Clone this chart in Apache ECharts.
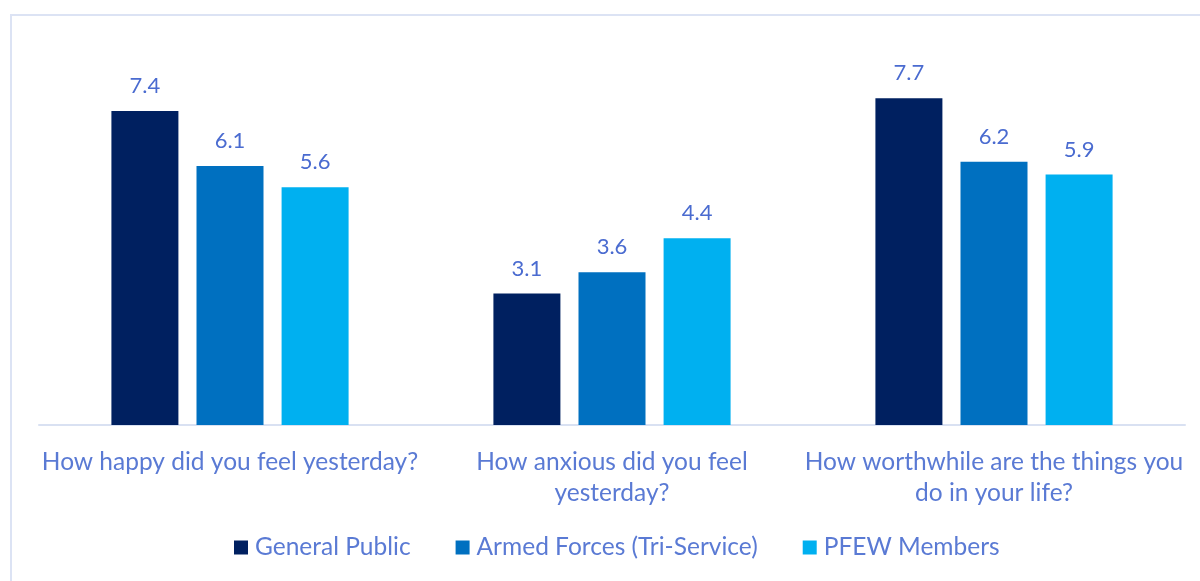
<!DOCTYPE html>
<html>
<head>
<meta charset="utf-8">
<script src="https://cdn.jsdelivr.net/npm/echarts@6/dist/echarts.min.js"></script>
<style>
  html, body { margin: 0; padding: 0; background: #ffffff; }
  #frame { position: absolute; left: 10px; top: 14px; width: 1200px; height: 600px;
           border: 2px solid #dce3f4; box-sizing: border-box; }
  #chart { position: absolute; left: 0; top: 0; width: 1200px; height: 581px; }
</style>
</head>
<body>
<div id="frame"></div>
<div id="chart"></div>
<script>
// Wellbeing questions (category axis)
const questions = [
  'How happy did you feel yesterday?',
  'How anxious did you feel\nyesterday?',
  'How worthwhile are the things you\ndo in your life?'
];
// Mean scores per group
const generalPublic = [7.4, 3.1, 7.7];
const armedForces   = [6.1, 3.6, 6.2];
const pfewMembers   = [5.6, 4.4, 5.9];
const seriesNames = ['General Public', 'Armed Forces (Tri-Service)', 'PFEW Members'];
const seriesColors = ['#002060', '#0070c0', '#00b0f0'];

const FONT = 'Lato, "Open Sans", sans-serif';
const TEXT_COLOR = '#5a7ad4';
const VALUE_COLOR = '#4a6bd0';

const chart = echarts.init(document.getElementById('chart'), null, { renderer: 'canvas' });

const dataSets = [generalPublic, armedForces, pfewMembers];
const series = dataSets.map((d, i) => ({
  name: seriesNames[i],
  type: 'bar',
  data: d,
  barWidth: 67,
  barGap: '27%',
  itemStyle: { color: seriesColors[i] },
  label: {
    show: true,
    position: 'top',
    distance: 14,
    color: VALUE_COLOR,
    fontFamily: FONT,
    fontSize: 22,
    formatter: p => p.value.toFixed(1)
  },
  emphasis: { disabled: true }
}));

chart.setOption({
  animation: false,
  backgroundColor: 'transparent',
  grid: { left: 39, right: 15, top: 43, bottom: 156, containLabel: false },
  legend: {
    bottom: 16,
    left: 229,
    itemWidth: 14,
    itemHeight: 14,
    itemGap: 45,
    icon: 'rect',
    textStyle: { color: TEXT_COLOR, fontFamily: FONT, fontSize: 24.5, padding: [0, 0, 0, 2] },
    data: seriesNames
  },
  xAxis: {
    type: 'category',
    data: questions,
    axisLine: { show: true, lineStyle: { color: '#d9e1f2', width: 2 } },
    axisTick: { show: false },
    axisLabel: {
      color: TEXT_COLOR,
      fontFamily: FONT,
      fontSize: 24.5,
      lineHeight: 31,
      margin: 22,
      interval: 0,
      align: 'center'
    }
  },
  yAxis: {
    type: 'value',
    min: 0,
    max: 9,
    interval: 1,
    show: false,
    splitLine: { show: false }
  },
  series: series
});
</script>
</body>
</html>
